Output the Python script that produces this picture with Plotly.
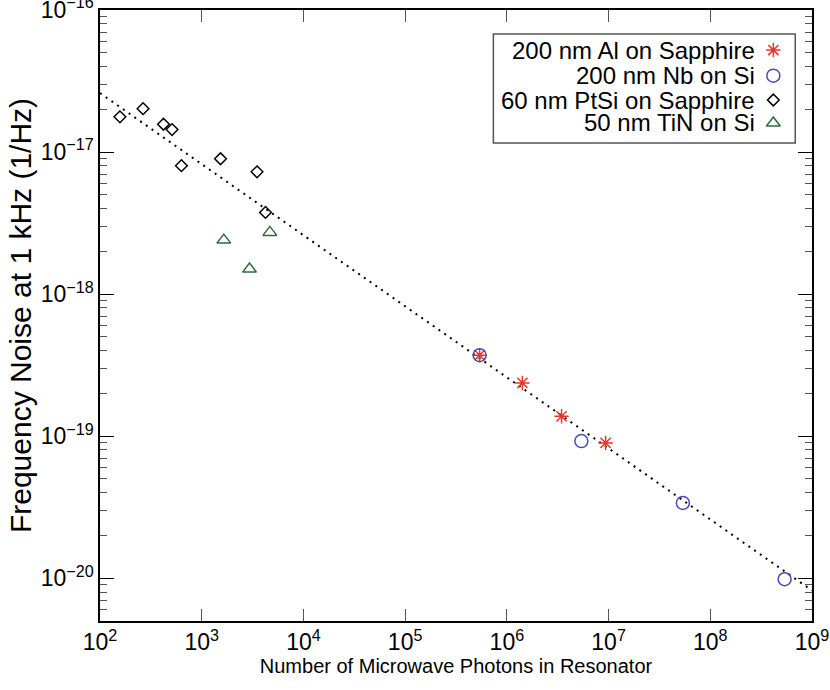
import plotly.graph_objects as go

# photon number vs frequency noise at 1 kHz
al_photons = [5.4e5, 1.42e6, 3.45e6, 9.35e6]
al_noise = [3.72e-19, 2.37e-19, 1.38e-19, 8.97e-20]

nb_photons = [5.4e5, 5.4e6, 5.38e7, 5.38e8]
nb_noise = [3.72e-19, 9.23e-20, 3.39e-20, 9.84e-21]

ptsi_photons = [157, 265, 421, 511, 632, 1531, 3499, 4237]
ptsi_noise = [1.77e-17, 2.02e-17, 1.57e-17, 1.44e-17, 8.02e-18, 8.97e-18, 7.26e-18, 3.76e-18]

tin_photons = [1648, 2951, 4677]
tin_noise = [2.40e-18, 1.50e-18, 2.72e-18]

# n^-1/2 guide line
fit_photons = [1e2, 1e9]
fit_noise = [2.6e-17, 8.2e-21]

x_ticks = [1e2, 1e3, 1e4, 1e5, 1e6, 1e7, 1e8, 1e9]
x_ticktext = ['10<sup>%d</sup>' % p for p in range(2, 10)]
y_ticks = [1e-20, 1e-19, 1e-18, 1e-17, 1e-16]
y_ticktext = ['10<sup>\u2212%d</sup>' % p for p in (20, 19, 18, 17, 16)]

labels = ['200 nm Al on Sapphire', '200 nm Nb on Si', '60 nm PtSi on Sapphire', '50 nm TiN on Si']

font = 'Liberation Sans, Arial, Helvetica, sans-serif'
red = '#e8352b'
blue = '#4a4ab4'
green = '#2f6b3b'

styles = [
    dict(symbol='asterisk-open', size=12, color=red),
    dict(symbol='circle-open', size=13, color=blue),
    dict(symbol='diamond-open', size=9, color='black'),
    dict(symbol='triangle-up-open', size=12, color=green),
]

fig = go.Figure()

fig.add_trace(go.Scatter(x=fit_photons, y=fit_noise, mode='lines',
                         line=dict(color='black', width=2, dash='2px,5px'),
                         showlegend=False))

series = [(al_photons, al_noise), (nb_photons, nb_noise),
          (ptsi_photons, ptsi_noise), (tin_photons, tin_noise)]
for (xs, ys), st, name in zip(series, styles, labels):
    fig.add_trace(go.Scatter(
        x=xs, y=ys, mode='markers', name=name, showlegend=False,
        marker=dict(symbol=st['symbol'], size=st['size'], color=st['color'],
                    line=dict(color=st['color'], width=1.5)),
    ))

# hand-made legend: text right-aligned, symbol to the right of it
legend_rows = [0.9345, 0.8925, 0.8527, 0.8151]
for row, st, name in zip(legend_rows, styles, labels):
    fig.add_trace(go.Scatter(
        x=[0.9457], y=[row], xaxis='x2', yaxis='y2', mode='markers', showlegend=False,
        marker=dict(symbol=st['symbol'], size=st['size'], color=st['color'],
                    line=dict(color=st['color'], width=1.5)),
        hoverinfo='skip',
    ))
    fig.add_annotation(x=0.9232, y=row, xref='paper', yref='paper', text=name,
                       showarrow=False, xanchor='right', yanchor='middle',
                       font=dict(size=24, color='black', family=font))

fig.add_shape(type='rect', xref='paper', yref='paper',
              x0=0.5525, x1=0.9765, y0=0.7823, y1=0.9607,
              line=dict(color='#555555', width=1.5), fillcolor='rgba(0,0,0,0)')

fig.update_layout(
    width=830, height=690,
    margin=dict(l=100, r=18, t=10, b=69),
    paper_bgcolor='white', plot_bgcolor='white',
    font=dict(family=font, size=20, color='black'),
    xaxis=dict(
        type='log', range=[2, 9], tickvals=x_ticks, ticktext=x_ticktext,
        ticks='inside', ticklen=12, tickcolor='#555555', mirror='ticks',
        showline=True, linecolor='black', linewidth=1.5, showgrid=False, zeroline=False,
        title=dict(text='Number of Microwave Photons in Resonator', standoff=4,
                   font=dict(size=20)),
        tickfont=dict(size=23), automargin=False, ticklabeloverflow='allow',
    ),
    yaxis=dict(
        type='log', range=[-20.301, -16], tickvals=y_ticks, ticktext=y_ticktext,
        ticks='inside', ticklen=14, tickcolor='black', mirror='ticks',
        minor=dict(ticks='inside', ticklen=7, tickcolor='#555555', showgrid=False,
                   dtick='D1'),
        showline=True, linecolor='black', linewidth=1.5, showgrid=False, zeroline=False,
        title=dict(text='Frequency Noise at 1 kHz (1/Hz)', standoff=0,
                   font=dict(size=30)),
        tickfont=dict(size=23), automargin=False, ticklabeloverflow='allow',
    ),
    xaxis2=dict(overlaying='x', range=[0, 1], visible=False, domain=[0, 1]),
    yaxis2=dict(overlaying='y', range=[0, 1], visible=False, domain=[0, 1]),
)

# drop the page's default body margin so the figure sits at the window's corner
fig.write_html('out.html', config={'displayModeBar': False},
               post_script="document.body.style.margin='0';")
